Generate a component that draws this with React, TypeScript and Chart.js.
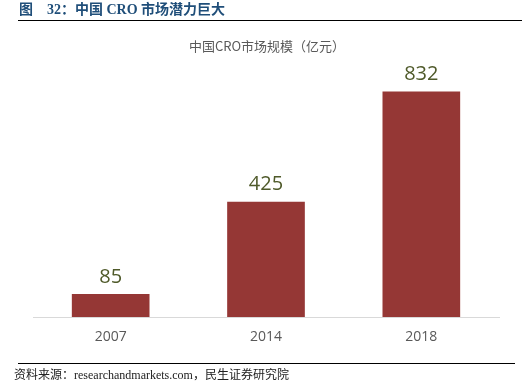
import React, { useEffect, useRef } from "react";
import { Chart, registerables } from "chart.js";

Chart.register(...registerables);

const categories = ["2007", "2014", "2018"];
const marketSize = [85, 425, 832];
const figureTitle = "图　32：中国 CRO 市场潜力巨大";
const chartTitle = "中国CRO市场规模（亿元）";
const sourceText = "资料来源：researchandmarkets.com，民生证券研究院";

const W = 522;
const H = 385;

const decorPlugin = {
  id: "decor",
  afterDraw(chart: any) {
    const ctx = chart.ctx;
    ctx.save();
    // figure title
    ctx.fillStyle = "#1f4e79";
    ctx.font = "bold 14px 'Liberation Serif', 'Noto Sans CJK SC', serif";
    ctx.textBaseline = "middle";
    ctx.textAlign = "left";
    ctx.fillText(figureTitle, 19, 10);
    // lines
    ctx.strokeStyle = "#000000";
    ctx.lineWidth = 1.2;
    ctx.beginPath();
    ctx.moveTo(18, 20.5);
    ctx.lineTo(522, 20.5);
    ctx.stroke();
    ctx.lineWidth = 1;
    ctx.beginPath();
    ctx.moveTo(18, 363.5);
    ctx.lineTo(515, 363.5);
    ctx.stroke();
    // chart title
    ctx.fillStyle = "#595959";
    ctx.font = "13px 'Noto Sans CJK SC', sans-serif";
    ctx.textAlign = "center";
    ctx.fillText(chartTitle, 267, 46);
    // source
    ctx.fillStyle = "#222222";
    ctx.font = "12px 'Liberation Serif', 'Noto Sans CJK SC', serif";
    ctx.textAlign = "left";
    ctx.fillText(sourceText, 14, 376);
    // data labels
    const meta = chart.getDatasetMeta(0);
    ctx.fillStyle = "#4f5a2a";
    ctx.font = "20px 'Open Sans', 'Liberation Sans', sans-serif";
    ctx.textAlign = "center";
    meta.data.forEach((bar: any, i: number) => {
      ctx.fillText(String(marketSize[i]), bar.x, bar.y - 17);
    });
    ctx.restore();
  },
};

export default function App() {
  const ref = useRef<HTMLCanvasElement>(null);
  useEffect(() => {
    if (!ref.current) return;
    const chart = new Chart(ref.current, {
      type: "bar",
      data: {
        labels: categories,
        datasets: [
          {
            data: marketSize,
            backgroundColor: "#953735",
            categoryPercentage: 1,
            barPercentage: 0.5,
          },
        ],
      },
      options: {
        animation: false,
        responsive: false,
        maintainAspectRatio: false,
        layout: { padding: { left: 33, right: 23, top: 73, bottom: 0 } },
        plugins: { legend: { display: false }, tooltip: { enabled: false }, title: { display: false } },
        scales: {
          y: { display: false, min: 0, max: 900 },
          x: {
            grid: { display: false, drawTicks: false },
            border: { display: true, color: "#d9d9d9", width: 1 },
            ticks: {
              color: "#595959",
              font: { size: 14, family: "'Open Sans', 'Liberation Sans', sans-serif" },
              padding: 12,
            },
            afterFit(scale: any) {
              scale.height = 68;
            },
          },
        },
      },
      plugins: [decorPlugin],
    });
    return () => chart.destroy();
  }, []);
  return (
    <div style={{ position: "fixed", left: 0, top: 0, width: W, height: H, background: "#fff" }}>
      <canvas ref={ref} width={W} height={H} style={{ width: W, height: H, display: "block" }} />
    </div>
  );
}
